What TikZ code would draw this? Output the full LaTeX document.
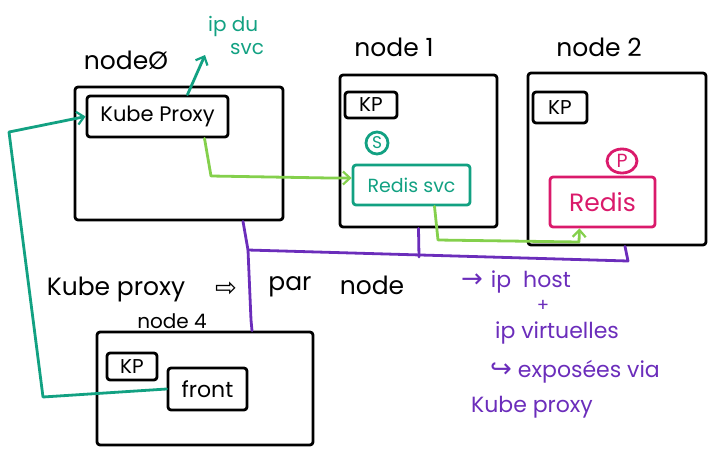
\documentclass[tikz,border=0pt]{standalone}
\usepackage{fontspec}
\setmainfont{Poppins}
\newfontfamily\symf{DejaVu Sans}
\usetikzlibrary{arrows.meta,shapes.geometric}
\definecolor{teal1}{HTML}{12A182}
\definecolor{lgreen}{HTML}{84D04C}
\definecolor{purp}{HTML}{6B2DBB}
\definecolor{mag}{HTML}{DA1A6B}
\begin{document}
\begin{tikzpicture}[x=1pt,y=-1pt,
  hand/.style={line width=2.8pt, line cap=round, line join=round},
  box/.style={draw, hand, rounded corners=3pt, inner sep=0pt},
  arr/.style={-{Straight Barb[length=7pt,width=13pt,line width=2.2pt]}},
  big/.style={inner sep=0pt, font=\fontsize{25}{28}\selectfont},
  mid/.style={inner sep=0pt, font=\fontsize{20}{23}\selectfont},
  small/.style={inner sep=0pt, font=\fontsize{20}{22}\selectfont},
  ptxt/.style={inner sep=0pt, text=purp, font=\fontsize{22}{24}\selectfont}]
\useasboundingbox (0,0) rectangle (713,451);
% node 0
\node[box, minimum width=208pt, minimum height=133pt] (n0) at (179,153.5) {};
\node[box, minimum width=141pt, minimum height=41pt, font=\fontsize{21}{23}\selectfont] (kp0) at (157.5,116.5) {Kube Proxy};
\node[big] (l0) at (126,60) {nodeØ};
\node[mid, text=teal1, align=left] (ipsvc) at (236,35) {ip du\\\hspace*{22pt}svc};
% node 1
\node[box, minimum width=157pt, minimum height=152pt] (n1) at (418.5,151) {};
\node[box, minimum width=52pt, minimum height=26pt, small] (kp1) at (371,105) {KP};
\node[draw=teal1, hand, circle, minimum size=22pt, inner sep=0pt, text=teal1, font=\fontsize{17}{18}\selectfont] (s) at (377,143) {S};
\node[box, draw=teal1, text=teal1, minimum width=117pt, minimum height=40pt, font=\fontsize{19}{21}\selectfont] (rsvc) at (411.5,185) {Redis svc};
\node[big] (l1) at (394,47) {node 1};
% node 2
\node[box, minimum width=178pt, minimum height=172pt] (n2) at (617,159) {};
\node[box, minimum width=54pt, minimum height=31pt, small] (kp2) at (560,107.5) {KP};
\node[draw=mag, hand, ellipse, minimum width=30pt, minimum height=24pt, inner sep=0pt, text=mag, font=\fontsize{19}{20}\selectfont] (p) at (622,161) {P};
\node[box, draw=mag, text=mag, minimum width=105pt, minimum height=50pt, font=\fontsize{25}{27}\selectfont] (redis) at (602.5,202) {Redis};
\node[big] (l2) at (599,47) {node 2};
% node 4
\node[box, minimum width=216pt, minimum height=113pt] (n4) at (205,388.5) {};
\node[box, minimum width=50pt, minimum height=27pt, small] (kp4) at (132,366.5) {KP};
\node[box, minimum width=79pt, minimum height=42pt, font=\fontsize{22}{24}\selectfont] (front) at (207.5,389) {front};
\node[mid] (l4) at (172,321) {node 4};
% texts
\node[big] (kpx) at (116,289) {Kube proxy};
\node[inner sep=0pt, font=\fontsize{26}{28}\selectfont] (imp) at (226,289) {\symf ⇨};
\node[big] (par) at (290,287) {par};
\node[big] (pnode) at (372,285) {node};
\node[ptxt] (t1) at (516,282) {{\symf\fontsize{26}{26}\selectfont →}\hspace{8pt}ip\hspace{12pt}host};
\node[inner sep=0pt, text=purp, font=\fontsize{18}{18}\selectfont] (t2) at (543,306) {+};
\node[ptxt] (t3) at (557,333) {ip virtuelles};
\node[ptxt] (t4) at (575,372) {{\symf\fontsize{26}{26}\selectfont ↪}\hspace{6pt}exposées via};
\node[ptxt] (t5) at (532,407) {Kube proxy};
% connectors
\draw[teal1, hand, arr] ([xshift=30pt]kp0.north) -- (205,55);
\draw[teal1, hand, arr] (front.west) -- (43,397) -- (9,132) -- (kp0.west);
\draw[lgreen, hand, arr] ([xshift=47pt]kp0.south) -- (211,176) -- (330,178) -- ([yshift=7pt]rsvc.west);
\draw[lgreen, hand, arr] ([xshift=23pt]rsvc.south) -- (438,240) -- (579,242) -- ([xshift=-23pt]redis.south);
\draw[purp, hand] ([xshift=64pt]n0.south) -- (248,250) -- (251,320) -- ([xshift=47pt]n4.north);
\draw[purp, hand] (248,250) -- (628,261) -- ([xshift=8pt]n2.south);
\draw[purp, hand] (n1.south) -- (419,257);
\end{tikzpicture}
\end{document}
